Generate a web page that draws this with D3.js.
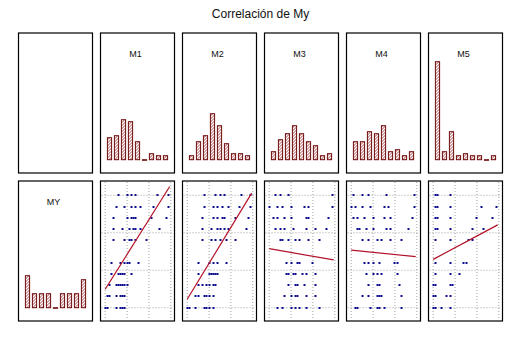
<!doctype html>
<html>
<head>
<meta charset="utf-8">
<style>
    body { margin: 0; background: #fff; }
    svg { display: block; font-family: 'Liberation Sans', Arial, sans-serif; }
    .frame { fill: none; stroke: #000; stroke-width: 1.2; }
    .grid line { stroke: #a0a0a0; stroke-width: 1; stroke-dasharray: 1 2; }
    .bar { fill: url(#hatch); stroke: #6e0a0a; stroke-width: 1; }
    .pt { fill: #0c0c8e; }
    .fit { stroke: #b3122a; stroke-width: 1.2; fill: none; }
    text.title { font-size: 12px; fill: #111; }
    text.name { font-size: 9px; fill: #111; }
</style>
<script src="https://d3js.org/d3.v7.min.js"></script>
</head>
<body>
<svg width="521" height="338"></svg>
<script>
    const title = 'Correlación de My'
    const names = ['MY', 'M1', 'M2', 'M3', 'M4', 'M5']

    // histogram counts, 9 bins each
    const histMY = [16, 7, 7, 7, 0, 7, 7, 7, 14]
    const histM1 = [11, 12, 20, 19, 9, 0, 3, 2, 2]
    const histM2 = [2, 9, 12, 23, 17, 8, 3, 3, 2]
    const histM3 = [4, 10, 13, 17, 13, 9, 7, 2, 3]
    const histM4 = [9, 9, 14, 13, 17, 4, 5, 2, 4]
    const histM5 = [49, 4, 14, 2, 3, 2, 2, 0, 2]

    // MY levels, and for each level the M values seen in the scatter
    const myLevels = [10, 9, 8, 7, 6, 4, 3, 2, 1, 0]
    const ptsM1 = [
        [6, 10, 12, 14, 24, 29], [5, 9, 12, 14, 16, 22, 29], [4, 10, 12, 13, 14, 21, 28],
        [4, 8, 11, 13, 14, 16, 25], [4, 9, 11, 12, 14, 19], [3, 7, 9, 10, 11, 15],
        [3, 6, 7, 8, 9, 12], [2, 5, 6, 7, 8, 9, 10], [1, 2, 5, 7, 8, 9], [0, 1, 5, 7, 8, 9]
    ]
    const ptsM2 = [
        [8, 13, 15, 17, 25, 29], [8, 12, 14, 16, 19, 24, 29], [7, 12, 14, 16, 17, 22, 28],
        [7, 11, 14, 15, 17, 19, 27], [7, 11, 13, 15, 18, 22], [5, 10, 12, 14, 18],
        [5, 10, 11, 12, 13, 14], [5, 7, 9, 10, 12, 13], [4, 5, 8, 9, 10, 12], [0, 1, 4, 8, 9, 10, 12]
    ]
    const ptsM3 = [
        [3, 5, 9, 29], [0, 4, 6, 10, 16, 18, 29], [2, 4, 7, 10, 17, 18, 27],
        [3, 5, 7, 11, 17, 21, 26], [5, 6, 9, 12, 14, 18, 23], [8, 10, 13, 14, 20],
        [8, 9, 11, 12, 15, 17, 21], [9, 12, 13, 16, 21], [7, 10, 12, 13, 17, 21], [4, 6, 10, 12, 14, 17, 23]
    ]
    const ptsM4 = [
        [1, 5, 8, 16, 29], [0, 2, 5, 9, 15, 17, 29], [1, 3, 6, 10, 15, 18, 28],
        [3, 4, 7, 10, 16, 18, 26], [5, 8, 12, 14, 18, 23], [6, 8, 10, 13, 20, 21],
        [7, 10, 12, 14, 21], [8, 12, 13, 22], [5, 8, 12, 13, 14, 23], [2, 3, 9, 12, 13, 15, 23]
    ]
    const ptsM5 = [
        [1, 2, 8], [1, 2, 8, 22, 29], [1, 2, 8, 20, 27],
        [1, 2, 8, 18, 23], [1, 8, 16, 18], [1, 8, 14, 15],
        [1, 8, 12], [0, 1, 8, 9], [0, 1, 6, 8], [0, 1, 4, 8]
    ]

    // fitted lines MY = a + b*M
    const fitA = [1.64, 0.75, 5.25, 5.13, 4.3]
    const fitB = [0.31, 0.32, -0.034, -0.02, 0.104]
    const fitRange = [0, 29.5]

    const hists = [histMY, histM1, histM2, histM3, histM4, histM5]
    const pts = [ptsM1, ptsM2, ptsM3, ptsM4, ptsM5]

    const svg = d3.select('svg')

    // diagonal hatch for the bars
    const pat = svg.append('defs').append('pattern')
        .attr('id', 'hatch')
        .attr('patternUnits', 'userSpaceOnUse')
        .attr('width', 3)
        .attr('height', 3)
    pat.append('rect').attr('width', 3).attr('height', 3).attr('fill', '#fff')
    pat.append('path')
        .attr('d', 'M-1,1 L1,-1 M0,3 L3,0 M2,4 L4,2')
        .attr('stroke', '#a0303a')
        .attr('stroke-width', 0.9)

    const col = d3.scaleBand().domain(names).range([18.5, 502.5]).paddingInner(8 / 82)
    const row = d3.scaleBand().domain(['hist', 'scatter']).range([33, 321]).paddingInner(8 / 148)
    const pw = col.bandwidth()
    const ph = row.bandwidth()

    svg.append('text')
        .attr('class', 'title')
        .attr('x', 260.5)
        .attr('y', 18)
        .attr('text-anchor', 'middle')
        .text(title)

    names.forEach(n => {
        ['hist', 'scatter'].forEach(r => {
            svg.append('rect')
                .attr('class', 'frame')
                .attr('x', col(n))
                .attr('y', row(r))
                .attr('width', pw)
                .attr('height', ph)
        })
    })

    // histograms: MY on the diagonal of row 2, M1..M5 in row 1
    const binX = d3.scaleBand().domain(d3.range(9)).range([5.5, 68.5]).paddingInner(0.4).paddingOuter(0.2)
    const countY = d3.scaleLinear().domain([0, 10]).range([126.7, 106.7])

    names.forEach((n, i) => {
        const r = i === 0 ? 'scatter' : 'hist'
        const g = svg.append('g').attr('transform', `translate(${col(n)},${row(r)})`)
        g.append('text')
            .attr('class', 'name')
            .attr('x', pw / 2 - 2)
            .attr('y', 24)
            .attr('text-anchor', 'middle')
            .text(n)
        g.selectAll('rect.bar')
            .data(hists[i])
            .join('rect')
            .attr('class', 'bar')
            .attr('x', (d, k) => binX(k))
            .attr('y', d => countY(d))
            .attr('width', binX.bandwidth())
            .attr('height', d => Math.max(countY(0) - countY(d), 0.6))
    })

    // scatter plots MY vs Mi
    const sx = d3.scaleLinear().domain([0, 30]).range([4.7, 70.3])
    const sy = d3.scaleLinear().domain([0, 10]).range([126.7, 14.3])

    names.slice(1).forEach((n, i) => {
        const g = svg.append('g').attr('transform', `translate(${col(n)},${row('scatter')})`)

        const grid = g.append('g').attr('class', 'grid')
        grid.selectAll('line.v')
            .data(sx.ticks(3))
            .join('line')
            .attr('class', 'v')
            .attr('x1', d => sx(d)).attr('x2', d => sx(d))
            .attr('y1', 1).attr('y2', ph - 1)
        grid.selectAll('line.h')
            .data([0, 10 / 3, 20 / 3, 10])
            .join('line')
            .attr('class', 'h')
            .attr('x1', 1).attr('x2', pw - 1)
            .attr('y1', d => sy(d)).attr('y2', d => sy(d))

        const flat = []
        pts[i].forEach((xs, k) => xs.forEach(x => flat.push([x, myLevels[k]])))

        g.selectAll('rect.pt')
            .data(flat)
            .join('rect')
            .attr('class', 'pt')
            .attr('x', d => Math.round(sx(d[0])) - 1)
            .attr('y', d => Math.round(sy(d[1])) - 1)
            .attr('width', 2)
            .attr('height', 2)

        const line = d3.line()
            .x(d => sx(d))
            .y(d => sy(fitA[i] + fitB[i] * d))
        g.append('path')
            .attr('class', 'fit')
            .attr('d', line(fitRange))
    })
</script>
</body>
</html>
